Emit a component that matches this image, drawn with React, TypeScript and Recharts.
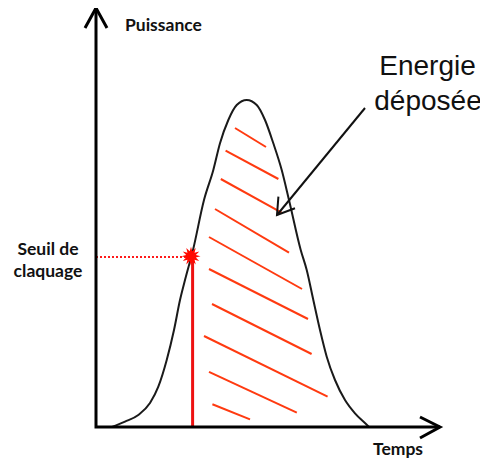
import React from "react";
import { ComposedChart, Line, Scatter, XAxis, YAxis } from "recharts";

// Pulse curve (time units, power units)
const curveTime = [4, 7.25, 10.58, 13.5, 15.58, 17.68, 19.5, 21, 22.25, 24.25, 27, 29.33, 31, 33.08, 35.18, 37.68, 40.18, 42.25, 44.33, 46.43, 48.25, 51.18, 52.68, 54.33, 56, 57.68, 59.75, 62.25, 64.75, 67.5, 68.25];
const curvePower = [0, 1.33, 3, 6, 10.08, 16.75, 24.25, 31.75, 36.75, 44.25, 56.75, 64.25, 70.93, 76.75, 80.5, 81.75, 80.5, 76.75, 70.93, 64.25, 56.75, 44.25, 39.25, 31.75, 24.25, 17.58, 11.75, 6.75, 3.43, 0.75, 0];

// Breakdown threshold
const thresholdTime = 23.75;
const thresholdPower = 42.5;

// Hatch segments of deposited energy
const hatchStartT = [34.75, 32.4, 31.2, 29.75, 28.25, 28.25, 29, 27, 28.25, 29.1];
const hatchStartP = [74.75, 69.1, 62, 54.5, 47.5, 39.5, 30.75, 22.75, 13.8, 5.7];
const hatchEndT = [42.5, 45.6, 46.4, 48.25, 51.5, 53, 53.9, 57.9, 50.2, 38.5];
const hatchEndP = [70, 62, 53.6, 43.6, 34.5, 27, 18.25, 7.6, 3.6, 1.9];

// Axes (with arrow heads)
const axisT = [0, 0, 86];
const axisP = [104.75, 0, 0];
const yArrowT = [-2.75, 0, 2.75];
const yArrowP = [99.75, 104.75, 99.75];
const xArrowT = [81, 86, 81];
const xArrowP = [2.5, 0, -2.75];

// Annotation arrow "Energie déposée"
const annotT = [67.25, 45.25];
const annotP = [79.75, 53];
const annotHeadT = [45.6, 45.25, 49.75];
const annotHeadP = [57.6, 53, 54.7];

const toPts = (ts: number[], ps: number[]) => ts.map((t, i) => ({ t, p: ps[i] }));

const curveData = toPts(curveTime, curvePower);
const hatchData = hatchStartT.map((_, i) => [
  { t: hatchStartT[i], p: hatchStartP[i] },
  { t: hatchEndT[i], p: hatchEndP[i] },
]);

const Star = (props: any) => {
  const { cx, cy } = props;
  const n = 12;
  const pts: string[] = [];
  for (let i = 0; i < n * 2; i++) {
    const r = i % 2 === 0 ? 9.5 : 5;
    const a = (Math.PI * i) / n;
    pts.push(`${cx + r * Math.cos(a)},${cy + r * Math.sin(a)}`);
  }
  return <polygon points={pts.join(" ")} fill="#ff0a00" />;
};

const common = {
  dataKey: "p",
  dot: false,
  activeDot: false,
  isAnimationActive: false,
  legendType: "none" as const,
};

export default function App() {
  return (
    <div style={{ position: "relative", width: 480, height: 451 }}>
      <ComposedChart width={480} height={451} margin={{ top: 0, right: 32, bottom: 12, left: 68 }}>
        <XAxis type="number" dataKey="t" domain={[-5, 90]} hide />
        <YAxis type="number" dataKey="p" domain={[-5, 104.75]} hide />
        {hatchData.map((d, i) => (
          <Line key={"h" + i} {...common} data={d} type="linear" stroke="#ff3a10" strokeWidth={2} />
        ))}
        <Line {...common} data={curveData} type="monotone" stroke="#1a1a1a" strokeWidth={2} />
        <Line
          {...common}
          data={[{ t: 0, p: thresholdPower }, { t: thresholdTime - 1, p: thresholdPower }]}
          type="linear"
          stroke="#ff1a1a"
          strokeWidth={2}
          strokeDasharray="2 2"
        />
        <Line
          {...common}
          data={[{ t: thresholdTime + 0.4, p: 0 }, { t: thresholdTime + 0.4, p: thresholdPower }]}
          type="linear"
          stroke="#ee1111"
          strokeWidth={3}
        />
        <Line {...common} data={toPts(annotT, annotP)} type="linear" stroke="#111" strokeWidth={2} />
        <Line {...common} data={toPts(annotHeadT, annotHeadP)} type="linear" stroke="#111" strokeWidth={2} />
        <Line {...common} data={toPts(axisT, axisP)} type="linear" stroke="#000" strokeWidth={3} />
        <Line {...common} data={toPts(yArrowT, yArrowP)} type="linear" stroke="#000" strokeWidth={3} />
        <Line {...common} data={toPts(xArrowT, xArrowP)} type="linear" stroke="#000" strokeWidth={3} />
        <Scatter
          data={[{ t: thresholdTime, p: thresholdPower + 0.2 }]}
          dataKey="p"
          isAnimationActive={false}
          legendType="none"
          shape={Star}
        />
      </ComposedChart>
      <svg width={480} height={451} style={{ position: "absolute", left: 0, top: 0, pointerEvents: "none" }}>
        <g fontFamily="Lato, 'Open Sans', sans-serif" fontWeight={700} fill="#111">
          <text x={117} y={22.7} fontSize={17.5}>Puissance</text>
          <text x={40} y={247} fontSize={17.5} textAnchor="middle">Seuil de</text>
          <text x={40} y={268.7} fontSize={17.5} textAnchor="middle">claquage</text>
          <text x={365} y={447} fontSize={17.5}>Temps</text>
        </g>
        <g fontFamily="'Liberation Sans', Arial, sans-serif" fill="#111" fontSize={28} textAnchor="middle">
          <text x={419.5} y={67}>Energie</text>
          <text x={420} y={102}>déposée</text>
        </g>
      </svg>
    </div>
  );
}
